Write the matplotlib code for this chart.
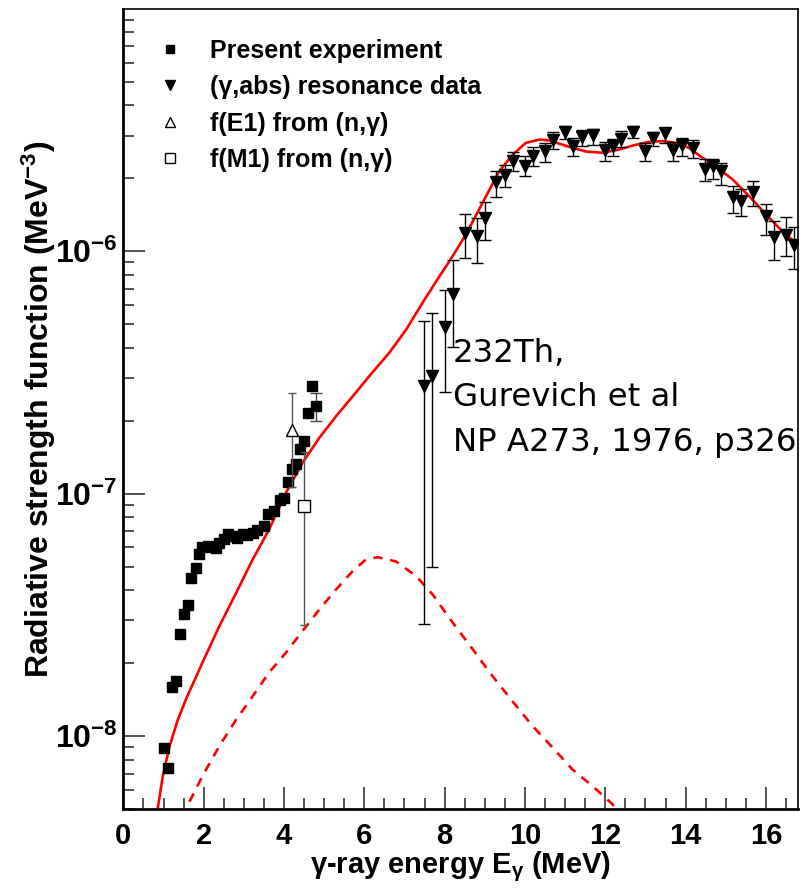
import numpy as np
import matplotlib
matplotlib.use('Agg')
import matplotlib.pyplot as plt
from matplotlib.lines import Line2D
from matplotlib.ticker import MultipleLocator, FixedLocator, LogLocator, NullFormatter, FuncFormatter

plt.rcParams['font.family'] = ['Liberation Sans', 'DejaVu Sans']
plt.rcParams['mathtext.fontset'] = 'custom'
plt.rcParams['mathtext.rm'] = 'Liberation Sans:bold'
plt.rcParams['mathtext.bf'] = 'Liberation Sans:bold'
plt.rcParams['mathtext.it'] = 'Liberation Sans:bold:italic'
plt.rcParams['axes.unicode_minus'] = False

# present experiment, gamma strength function (MeV^-3)
exp_e = [1.00, 1.10, 1.20, 1.30, 1.40, 1.50, 1.60, 1.69, 1.80, 1.89,
         1.97, 2.10, 2.22, 2.31, 2.39, 2.50, 2.60, 2.72, 2.82, 2.97,
         3.09, 3.22, 3.34, 3.49, 3.61, 3.76, 3.91, 4.01, 4.11, 4.21,
         4.30, 4.41, 4.51, 4.61, 4.70, 4.80]
exp_f = [8.92e-9, 7.38e-9, 1.60e-8, 1.69e-8, 2.64e-8, 3.18e-8, 3.48e-8, 4.47e-8, 4.95e-8, 5.65e-8,
         6.02e-8, 6.07e-8, 6.04e-8, 5.98e-8, 6.23e-8, 6.52e-8, 6.79e-8, 6.68e-8, 6.58e-8, 6.79e-8,
         6.73e-8, 6.86e-8, 7.07e-8, 7.39e-8, 8.26e-8, 8.47e-8, 9.38e-8, 9.62e-8, 1.12e-7, 1.27e-7,
         1.33e-7, 1.53e-7, 1.65e-7, 2.16e-7, 2.78e-7, 2.30e-7]
# only the last bin has a visible error bar
exp_bar_e = [4.80]
exp_bar_lo = [1.99e-7]
exp_bar_hi = [2.61e-7]

# (gamma,abs) resonance data, Gurevich et al
res_e = [7.49, 7.69, 8.00, 8.20, 8.51, 8.80, 9.01, 9.29, 9.50, 9.71,
         10.00, 10.21, 10.50, 10.70, 10.99, 11.20, 11.41, 11.70, 12.00, 12.20,
         12.40, 12.70, 13.00, 13.19, 13.48, 13.69, 13.90, 14.19, 14.49, 14.69,
         14.89, 15.19, 15.39, 15.68, 16.00, 16.21, 16.50, 16.70]
res_f = [2.78e-7, 3.07e-7, 4.88e-7, 6.69e-7, 1.191e-6, 1.153e-6, 1.373e-6, 1.925e-6, 2.072e-6, 2.366e-6,
         2.256e-6, 2.465e-6, 2.584e-6, 2.888e-6, 3.108e-6, 2.729e-6, 2.953e-6, 3.009e-6, 2.627e-6, 2.710e-6,
         2.908e-6, 3.117e-6, 2.584e-6, 2.936e-6, 3.078e-6, 2.609e-6, 2.736e-6, 2.670e-6, 2.193e-6, 2.241e-6,
         2.138e-6, 1.670e-6, 1.619e-6, 1.758e-6, 1.394e-6, 1.147e-6, 1.172e-6, 1.066e-6]
res_hi = [5.18e-7, 5.57e-7, 6.95e-7, 9.24e-7, 1.427e-6, 1.373e-6, 1.598e-6, 2.152e-6, 2.263e-6, 2.559e-6,
          2.465e-6, 2.695e-6, 2.799e-6, 3.096e-6, 3.278e-6, 2.936e-6, 3.155e-6, 3.206e-6, 2.815e-6, 2.908e-6,
          3.126e-6, 3.300e-6, 2.799e-6, 3.096e-6, 3.228e-6, 2.815e-6, 2.936e-6, 2.869e-6, 2.404e-6, 2.404e-6,
          2.315e-6, 1.854e-6, 1.808e-6, 1.944e-6, 1.573e-6, 1.329e-6, 1.381e-6, 1.256e-6]
res_lo = [2.91e-8, 4.98e-8, 2.63e-7, 4.03e-7, 9.39e-7, 8.96e-7, 1.117e-6, 1.670e-6, 1.836e-6, 2.138e-6,
          2.038e-6, 2.241e-6, 2.328e-6, 2.644e-6, 2.908e-6, 2.481e-6, 2.710e-6, 2.754e-6, 2.366e-6, 2.465e-6,
          2.685e-6, 2.936e-6, 2.350e-6, 2.710e-6, 2.799e-6, 2.350e-6, 2.481e-6, 2.428e-6, 1.944e-6, 1.989e-6,
          1.884e-6, 1.440e-6, 1.394e-6, 1.543e-6, 1.172e-6, 0.924e-6, 0.954e-6, 0.846e-6]

# f(E1) and f(M1) from (n,gamma)
e1_e, e1_f, e1_lo, e1_hi = [4.19], [1.83e-7], [1.07e-7], [2.61e-7]
m1_e, m1_f, m1_lo, m1_hi = [4.51], [8.88e-8], [2.86e-8], [1.48e-7]

# total model strength (solid) and M1 spin-flip part (dashed)
tot_e = [0.80, 0.854, 0.98, 1.145, 1.35, 1.56, 1.97, 2.39, 2.81, 3.22, 3.63, 4.05, 4.46, 4.88, 5.30, 5.71,
         6.12, 6.62, 7.04, 7.45, 7.87, 8.12, 8.53, 8.94, 9.36, 9.69, 10.02, 10.36, 10.60,
         10.85, 11.19, 11.52, 11.93, 12.35, 12.68, 13.09, 13.43, 13.76, 14.09, 14.42, 14.75,
         15.17, 15.58, 16.00, 16.41, 16.80]
tot_f = [4.4e-9, 5.0e-9, 6.8e-9, 9.0e-9, 1.16e-8, 1.42e-8, 2.01e-8, 2.84e-8, 3.90e-8, 5.35e-8, 7.12e-8, 1.01e-7,
         1.34e-7, 1.70e-7, 2.09e-7, 2.52e-7, 3.05e-7, 3.81e-7, 4.75e-7, 6.13e-7, 7.89e-7, 9.1e-7,
         1.172e-6, 1.58e-6, 2.14e-6, 2.50e-6, 2.80e-6, 2.89e-6, 2.87e-6, 2.78e-6, 2.67e-6,
         2.58e-6, 2.55e-6, 2.63e-6, 2.73e-6, 2.83e-6, 2.85e-6, 2.80e-6, 2.67e-6, 2.43e-6, 2.24e-6,
         1.98e-6, 1.69e-6, 1.42e-6, 1.21e-6, 1.06e-6]
m1_model_e = [1.50, 1.56, 1.97, 2.39, 2.81, 3.22, 3.63, 4.05, 4.46, 4.88, 5.30, 5.71, 6.04, 6.33,
              6.79, 7.29, 7.70, 8.20, 8.70, 9.19, 9.69, 10.19, 10.69, 11.18, 11.68, 12.18, 12.30]
m1_model_f = [4.6e-9, 5.02e-9, 6.84e-9, 9.09e-9, 1.17e-8, 1.46e-8, 1.83e-8, 2.21e-8, 2.71e-8, 3.33e-8,
              4.03e-8, 4.79e-8, 5.35e-8, 5.47e-8, 5.25e-8, 4.57e-8, 3.84e-8, 2.94e-8, 2.28e-8, 1.77e-8,
              1.39e-8, 1.10e-8, 8.96e-9, 7.29e-9, 6.22e-9, 5.23e-9, 4.9e-9]

fig = plt.figure(figsize=(8.01, 8.91), dpi=100)
ax = fig.add_axes([0.154, 0.092, 0.8423, 0.898])

ax.plot(tot_e, tot_f, color='red', lw=1.9)
ax.plot(m1_model_e, m1_model_f, color='red', lw=1.9, ls=(0, (3.5, 3)))

def asym(vals, lo, hi):
    return [np.array(vals) - np.array(lo), np.array(hi) - np.array(vals)]

ax.errorbar(res_e, res_f, yerr=asym(res_f, res_lo, res_hi), fmt='v', color='black',
            ms=8, elinewidth=1, capsize=4, capthick=1, ecolor='black')
ax.errorbar(exp_bar_e, exp_f[-1:], yerr=asym(exp_f[-1:], exp_bar_lo, exp_bar_hi), fmt='none',
            ecolor='#444444', elinewidth=1, capsize=4, capthick=1)
ax.plot(exp_e, exp_f, 's', color='black', ms=7, ls='none')
ax.errorbar(e1_e, e1_f, yerr=asym(e1_f, e1_lo, e1_hi), fmt='^', mfc='white', mec='black',
            ms=9, ecolor='#555555', elinewidth=1, capsize=3, capthick=1, zorder=4)
ax.errorbar(m1_e, m1_f, yerr=asym(m1_f, m1_lo, m1_hi), fmt='s', mfc='white', mec='black',
            ms=9, ecolor='#555555', elinewidth=1, capsize=3, capthick=1, zorder=4)

ax.set_yscale('log')
ax.set_xlim(0, 16.8)
ax.set_ylim(5e-9, 1e-5)

ax.xaxis.set_major_locator(MultipleLocator(2))
ax.xaxis.set_minor_locator(MultipleLocator(0.5))
ax.yaxis.set_major_locator(FixedLocator([1e-8, 1e-7, 1e-6]))
ax.yaxis.set_minor_locator(LogLocator(base=10, subs=np.arange(2, 10)))
ax.yaxis.set_minor_formatter(NullFormatter())
ax.yaxis.set_major_formatter(FuncFormatter(lambda v, p: r'$\mathbf{10^{%d}}$' % round(np.log10(v))))
ax.xaxis.set_major_formatter(FuncFormatter(lambda v, p: '%d' % v))

ax.tick_params(which='both', direction='in', top=False, right=False, color='#333333')
ax.tick_params(which='major', length=16, width=1.2)
ax.tick_params(which='minor', length=8, width=1.2)
ax.tick_params(axis='x', which='major', pad=9, labelsize=21)
ax.tick_params(axis='y', which='major', pad=4, labelsize=23)
for lab in ax.get_xticklabels():
    lab.set_fontweight('bold')

for side in ['left', 'bottom']:
    ax.spines[side].set_linewidth(2)
for side in ['top', 'right']:
    ax.spines[side].set_linewidth(1.2)

ax.set_xlabel(r'γ-ray energy E$_{\mathrm{\gamma}}$ (MeV)', fontsize=21, fontweight='bold', labelpad=0)
ax.set_ylabel(r'Radiative strength function (MeV$^{\mathbf{-3}}$)', fontsize=23,
              fontweight='bold', labelpad=-2)

handles = [
    Line2D([], [], marker='s', color='black', ls='none', ms=6),
    Line2D([], [], marker='v', color='black', ls='none', ms=7),
    Line2D([], [], marker='^', mfc='white', mec='black', ls='none', ms=7),
    Line2D([], [], marker='s', mfc='white', mec='black', ls='none', ms=7),
]
labels = ['Present experiment', '(γ,abs) resonance data', 'f(E1) from (n,γ)', 'f(M1) from (n,γ)']
leg = ax.legend(handles, labels, loc='upper left', bbox_to_anchor=(0.013, 0.991), frameon=False,
                prop={'weight': 'bold', 'size': 18}, labelspacing=0.5, handletextpad=1.0,
                handlelength=1.2)

ax.text(0.488, 0.589, '232Th,\nGurevich et al\nNP A273, 1976, p326', transform=ax.transAxes,
        family='DejaVu Sans', fontsize=23.3, va='top', ha='left', linespacing=1.57)

fig.savefig('out.png', dpi=100)
